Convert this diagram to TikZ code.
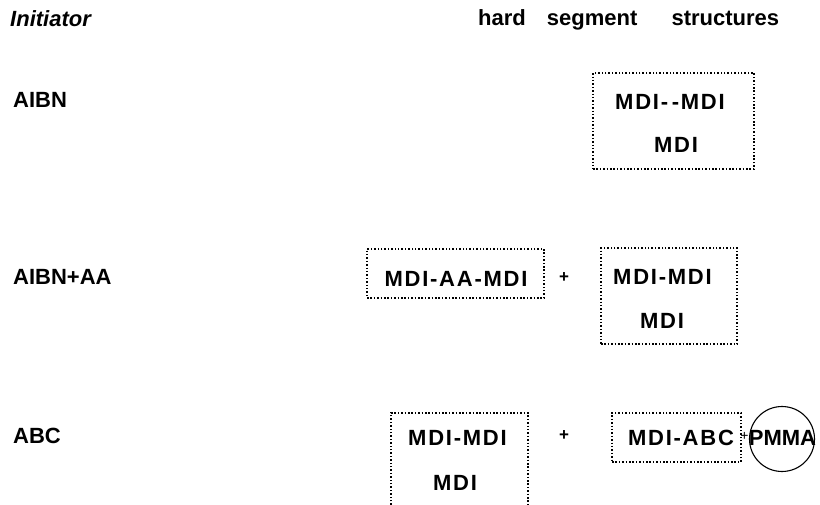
\documentclass[tikz,border=0pt]{standalone}
\usepackage{fontspec}
\setmainfont{Liberation Sans}
\newfontfamily\molfont[LetterSpace=8]{Liberation Sans}
\begin{document}
\begin{tikzpicture}[x=1pt,y=-1pt,
  txt/.style={font=\fontsize{22}{26}\selectfont\bfseries, inner sep=0pt, anchor=base west},
  mol/.style={font=\molfont\fontsize{22}{26}\selectfont\bfseries, inner sep=0pt, anchor=base},
  plus/.style={font=\fontsize{17}{20}\selectfont\bfseries, inner sep=0pt, anchor=center},
  dbox/.style={draw, line width=1.3pt, dash pattern=on 1.5pt off 1.9pt, inner sep=0pt, rectangle}]
\useasboundingbox (0,0) rectangle (820,505);
\clip (0,0) rectangle (820,505);

% headers
\node[txt, font=\fontsize{22}{26}\selectfont\bfseries\itshape] (hinit) at (10,27) {Initiator};
\node[txt] (hhard) at (478,26) {hard\hspace{15pt} segment\hspace{28pt} structures};

% row labels
\node[txt] (laibn) at (13,108) {AIBN};
\node[txt] (laibnaa) at (13,285) {AIBN+AA};
\node[txt] (labc) at (13,443) {ABC};

% row 1
\node[dbox, minimum width=161pt, minimum height=96pt] (b1) at (673.5,121) {};
\node[mol] (t11) at (670,110) {MDI-\,-MDI};
\node[mol] (t12) at (676,153) {MDI};

% row 2
\node[dbox, minimum width=177pt, minimum height=49pt] (b2a) at (455.5,273.5) {};
\node[mol] (t2a) at (456,287) {MDI-AA-MDI};
\node[plus] (p2) at (564,278) {+};
\node[dbox, minimum width=136pt, minimum height=96pt] (b2b) at (669,296) {};
\node[mol] (t2b1) at (662.5,285) {MDI-MDI};
\node[mol] (t2b2) at (662,328) {MDI};

% row 3
\coordinate (b3aBL) at (391,515);
\coordinate (b3aBR) at (528,515);
\draw[line width=1.3pt, dash pattern=on 1.5pt off 1.9pt] (b3aBL) |- (459.5,413) -| (b3aBR);
\node[mol] (t3a1) at (457.5,445) {MDI-MDI};
\node[mol] (t3a2) at (455,490) {MDI};
\node[plus] (p3) at (564,436) {+};
\node[dbox, minimum width=129pt, minimum height=49pt] (b3b) at (676.5,437.5) {};
\node[mol] (t3b) at (681,445) {MDI-ABC};
\node[plus, font=\fontsize{14}{16}\selectfont] (p3b) at (744.5,436) {+};
\node[draw, circle, line width=1.1pt, minimum size=65pt, inner sep=0pt] (circ) at (782,439) {};
\node[mol, font=\fontsize{22}{26}\selectfont\bfseries] (pmma) at (782.5,445) {PMMA};
\end{tikzpicture}
\end{document}
